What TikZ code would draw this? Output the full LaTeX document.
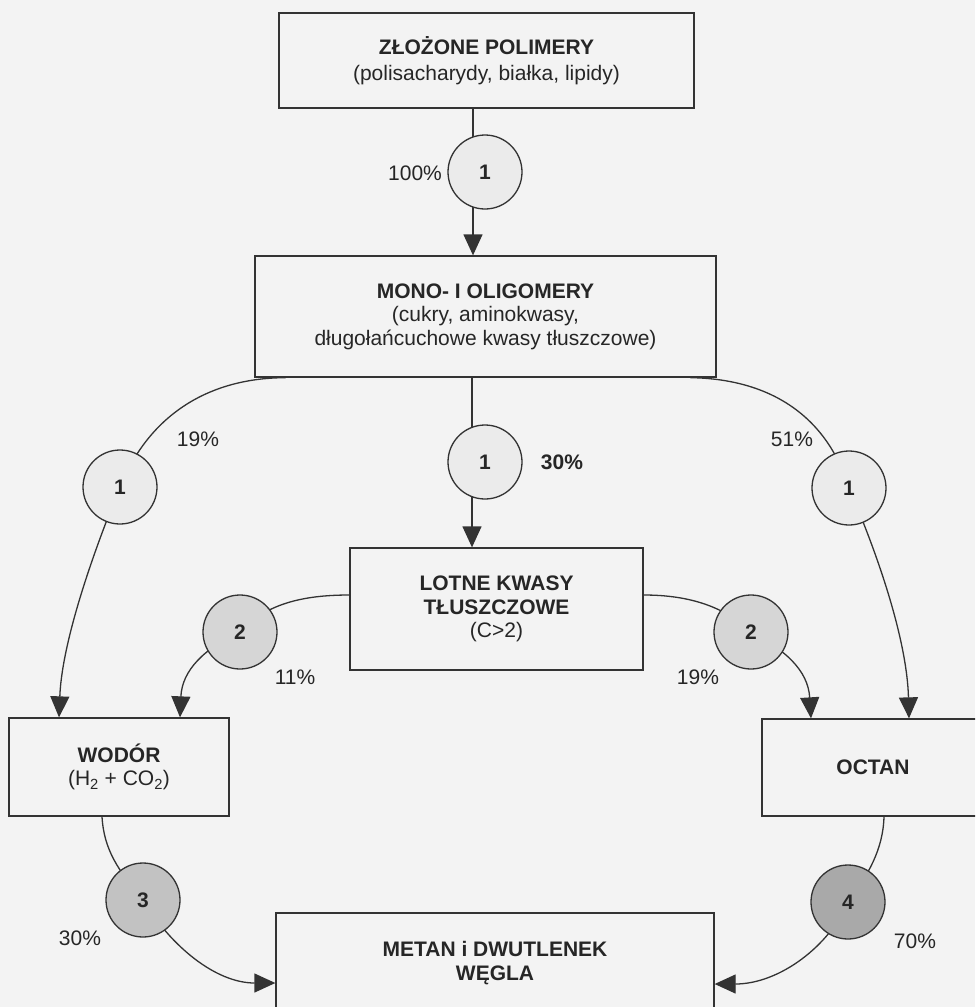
\documentclass[tikz,border=0pt]{standalone}
\usepackage{fontspec}
\setmainfont{Liberation Sans}
\usetikzlibrary{arrows.meta}
\definecolor{bg}{HTML}{F3F3F3}
\definecolor{ln}{HTML}{333333}
\definecolor{tx}{HTML}{262626}
\definecolor{fa}{HTML}{EBEBEB}
\definecolor{fb}{HTML}{D6D6D6}
\definecolor{fc}{HTML}{C2C2C2}
\definecolor{fd}{HTML}{A9A9A9}
\begin{document}
\begin{tikzpicture}[x=1pt,y=-1pt,
  box/.style={draw=ln, line width=1.3pt, inner sep=0pt, align=center, text=tx,
    font=\fontsize{21}{23.5}\selectfont},
  stage/.style={circle, draw=ln, line width=1.3pt, minimum size=74pt, inner sep=0pt,
    text=tx, font=\bfseries\fontsize{21}{24}\selectfont},
  pct/.style={text=tx, inner sep=0pt, font=\fontsize{21}{24}\selectfont},
  flow/.style={draw=ln, line width=1.3pt},
  arr/.style={flow, -{Triangle[width=19pt,length=21pt]}}]
\useasboundingbox (0,0) rectangle (975,1007);
\fill[bg] (0,0) rectangle (975,1007);
\clip (0,0) rectangle (975,1007);

% boxes
\node[box, minimum width=415pt, minimum height=95pt] (b1) at (486.5,60.5)
  {\textbf{ZŁOŻONE POLIMERY}\\[3pt](polisacharydy, białka, lipidy)};
\node[box, minimum width=461pt, minimum height=121pt] (b2) at (485.5,316.5)
  {\textbf{MONO- I OLIGOMERY}\\(cukry, aminokwasy,\\długołańcuchowe kwasy tłuszczowe)};
\node[box, minimum width=293pt, minimum height=122pt] (lkt) at (496.5,609)
  {\textbf{LOTNE KWASY}\\\textbf{TŁUSZCZOWE}\\(C>2)};
\node[box, minimum width=220pt, minimum height=98pt] (wod) at (119,767)
  {\textbf{WODÓR}\\(H\textsubscript{2} + CO\textsubscript{2})};
\node[box, minimum width=222pt, minimum height=97pt] (oct) at (873,767.5)
  {\textbf{OCTAN}};
\node[box, minimum width=438pt, minimum height=100pt] (met) at (495,963)
  {\textbf{METAN i DWUTLENEK}\\\textbf{WĘGLA}};

% circle positions
\coordinate (k1t) at (485,172);
\coordinate (k1l) at (120,487);
\coordinate (k1m) at (485,462);
\coordinate (k1r) at (849,488);
\coordinate (k2l) at (240,632);
\coordinate (k2r) at (751,632);
\coordinate (k3) at (143,900);
\coordinate (k4) at (848,902);

% connectors
\draw[arr] ([xshift=-13.5pt]b1.south) -- ([xshift=-13.5pt]b1.south |- b2.north);
\draw[arr] ([xshift=-13.5pt]b2.south) -- ([xshift=-13.5pt]b2.south |- lkt.north);
\draw[arr] ([xshift=-200pt]b2.south) .. controls (205,378) and (148,418) .. (k1l)
  .. controls (95,548) and (62,640) .. ([xshift=-60pt]wod.north);
\draw[arr] ([xshift=205pt]b2.south) .. controls (775,379) and (828,420) .. (k1r)
  .. controls (878,555) and (907,640) .. ([xshift=36pt]oct.north);
\draw[arr] ([yshift=14pt]lkt.west) .. controls (300,595) and (265,605) .. (k2l)
  .. controls (205,648) and (182,670) .. ([xshift=61pt]wod.north);
\draw[arr] ([yshift=14pt]lkt.east) .. controls (690,595) and (725,607) .. (k2r)
  .. controls (785,650) and (808,670) .. ([xshift=-62pt]oct.north);
\draw[arr] ([xshift=-17pt]wod.south) .. controls (104,850) and (118,870) .. (k3)
  .. controls (170,945) and (215,983) .. ([yshift=-20pt]met.west);
\draw[arr] ([xshift=11pt]oct.south) .. controls (883,850) and (868,875) .. (k4)
  .. controls (830,945) and (780,984) .. ([yshift=-21pt]met.east);

% stage circles
\node[stage, fill=fa] (c1t) at (k1t) {1};
\node[stage, fill=fa] (c1l) at (k1l) {1};
\node[stage, fill=fa] (c1m) at (k1m) {1};
\node[stage, fill=fa] (c1r) at (k1r) {1};
\node[stage, fill=fb] (c2l) at (k2l) {2};
\node[stage, fill=fb] (c2r) at (k2r) {2};
\node[stage, fill=fc] (c3) at (k3) {3};
\node[stage, fill=fd] (c4) at (k4) {4};

% percentages
\node[pct] (p100) at (415,173) {100\%};
\node[pct] (p19a) at (198,439) {19\%};
\node[pct] (p51) at (792,439) {51\%};
\node[pct] (p30b) at (562,462) {\textbf{30\%}};
\node[pct] (p11) at (295,677) {11\%};
\node[pct] (p19b) at (698,677) {19\%};
\node[pct] (p30) at (80,938) {30\%};
\node[pct] (p70) at (915,941) {70\%};
\end{tikzpicture}
\end{document}
